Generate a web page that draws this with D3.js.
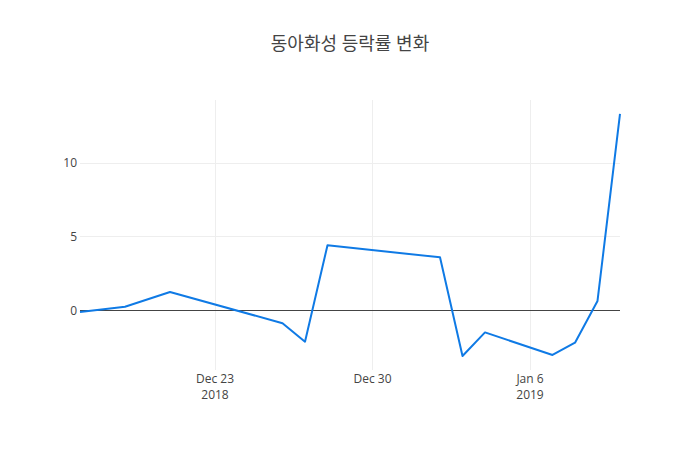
<!DOCTYPE html>
<html>
<head>
<meta charset="utf-8">
<script src="https://cdn.jsdelivr.net/npm/d3@7"></script>
<style>
body{margin:0;background:#fff;}
svg{display:block;}
</style>
</head>
<body>
<svg id="chart" width="700" height="450"></svg>
<script>
const title = "동아화성 등락률 변화";
const dates = ["2018-12-17","2018-12-19","2018-12-21","2018-12-26","2018-12-27","2018-12-28","2019-01-02","2019-01-03","2019-01-04","2019-01-07","2019-01-08","2019-01-09","2019-01-10"];
const changes = [-0.09, 0.27, 1.27, -0.85, -2.1, 4.44, 3.62, -3.07, -1.47, -3.0, -2.17, 0.66, 13.35];
const yTicks = [0, 5, 10];
const xTickDates = ["2018-12-23","2018-12-30","2019-01-06"];
const xTickLabels = [["Dec 23","2018"],["Dec 30",""],["Jan 6","2019"]];

const W = 700, H = 450, m = {l:80, r:80, t:100, b:80};
const svg = d3.select("#chart");
const parse = d3.timeParse("%Y-%m-%d");
const data = dates.map((d,i)=>({date:parse(d), v:changes[i]}));

const x = d3.scaleTime()
  .domain(d3.extent(data, d=>d.date))
  .range([m.l, W-m.r]);
const y = d3.scaleLinear()
  .domain([-4.02, 14.29])
  .range([H-m.b, m.t]);

const font = "'Open Sans', verdana, arial, sans-serif";

// grid
const g = svg.append("g");
g.selectAll("line.vg").data(xTickDates.map(parse)).enter().append("line")
  .attr("x1", d=>x(d)).attr("x2", d=>x(d))
  .attr("y1", m.t).attr("y2", H-m.b)
  .attr("stroke", "#eee").attr("stroke-width", 1).attr("shape-rendering","crispEdges");
g.selectAll("line.hg").data(yTicks.filter(t=>t!==0)).enter().append("line")
  .attr("x1", m.l).attr("x2", W-m.r)
  .attr("y1", d=>y(d)).attr("y2", d=>y(d))
  .attr("stroke", "#eee").attr("stroke-width", 1).attr("shape-rendering","crispEdges");

// zero line
svg.append("line")
  .attr("x1", m.l).attr("x2", W-m.r)
  .attr("y1", y(0)).attr("y2", y(0))
  .attr("stroke", "#444").attr("stroke-width", 1).attr("shape-rendering","crispEdges");

// y tick labels
svg.selectAll("text.yt").data(yTicks).enter().append("text")
  .attr("x", m.l-3).attr("y", d=>y(d)).attr("dy", "0.35em")
  .attr("text-anchor", "end")
  .style("font-family", font).style("font-size","12px").attr("fill","#444")
  .text(d=>d);

// x tick labels
const xt = svg.selectAll("g.xt").data(xTickDates.map((d,i)=>({d:parse(d), lab:xTickLabels[i]}))).enter()
  .append("text")
  .attr("transform", d=>`translate(${x(d.d)},${H-m.b+13})`)
  .attr("text-anchor","middle")
  .style("font-family", font).style("font-size","12px").attr("fill","#444");
xt.append("tspan").attr("x",0).attr("dy","0").text(d=>d.lab[0]);
xt.append("tspan").attr("x",0).attr("dy","15.6").text(d=>d.lab[1]);

// line
const line = d3.line().x(d=>x(d.date)).y(d=>y(d.v));
svg.append("path").datum(data)
  .attr("d", line)
  .attr("fill","none")
  .attr("stroke","#0f7ae5")
  .attr("stroke-width",2)
  .attr("stroke-linejoin","round");

// title
svg.append("text")
  .attr("x", W/2).attr("y", 50)
  .attr("text-anchor","middle")
  .style("font-family", "'Open Sans', 'Noto Sans CJK KR', sans-serif")
  .style("font-size","18px").attr("fill","#444")
  .text(title);
</script>
</body>
</html>
